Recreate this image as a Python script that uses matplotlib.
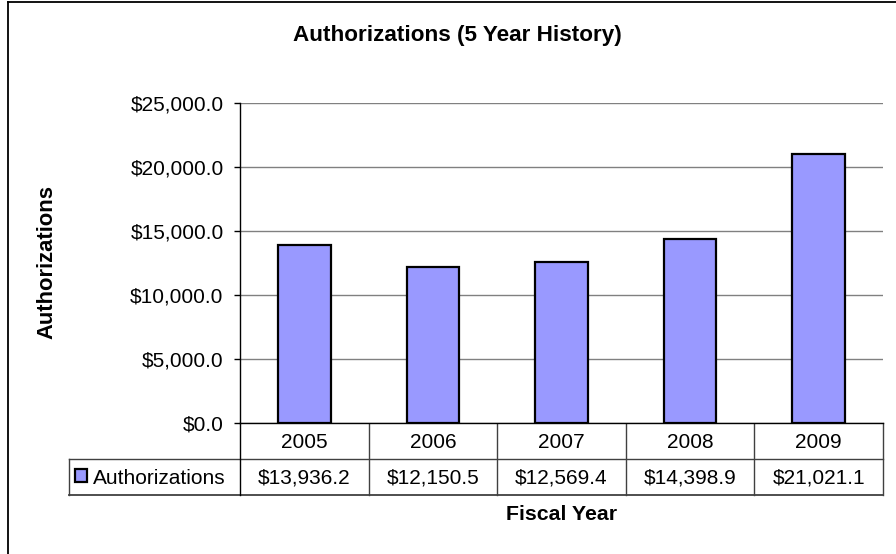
import matplotlib.pyplot as plt
import numpy as np

years = ["2005", "2006", "2007", "2008", "2009"]
authorizations = [13936.2, 12150.5, 12569.4, 14398.9, 21021.1]
series_name = "Authorizations"
y_ticks = [0, 5000, 10000, 15000, 20000, 25000]

W, H = 896, 554
plt.rcParams["font.family"] = ["Liberation Sans", "DejaVu Sans"]
fig = plt.figure(figsize=(W / 100, H / 100), dpi=100)

# plot area in pixel units
left, right, top, bottom = 240, 883, 103, 423
ax = fig.add_axes([left / W, 1 - bottom / H, (right - left) / W, (bottom - top) / H])

x = np.arange(len(years))
ax.bar(x, authorizations, width=0.41, color="#9999FF", edgecolor="black",
       linewidth=1.6, zorder=3)
ax.set_xlim(-0.5, len(years) - 0.5)
ax.set_ylim(0, 25000)
ax.set_yticks(y_ticks)
ax.set_yticklabels([f"${v:,.1f}" for v in y_ticks], fontsize=15)
ax.set_xticks([])
ax.yaxis.grid(True, color="#808080", linewidth=1.0, zorder=0)
ax.tick_params(axis="y", length=4.3, width=1, pad=7.5)
for s in ("top", "right"):
    ax.spines[s].set_visible(False)
ax.spines["left"].set_linewidth(1.0)
ax.spines["bottom"].set_linewidth(1.0)

# overlay in pixel coordinates for table, titles and frame
ov = fig.add_axes([0, 0, 1, 1], zorder=-1)
ov.set_xlim(0, W)
ov.set_ylim(H, 0)
ov.axis("off")

# chart frame (runs off the right and bottom edges)
ov.plot([8, 8], [2, H + 5], color="black", lw=1.3)
ov.plot([8, W + 5], [2, 2], color="black", lw=1.3)

ov.text(457, 35, "Authorizations (5 Year History)", fontsize=16.2,
        fontweight="bold", ha="center", va="center")
ov.text(47, 262, "Authorizations", fontsize=15.8, fontweight="bold",
        rotation=90, ha="center", va="center")
ov.text((left + right) / 2, 514, "Fiscal Year", fontsize=15.3,
        fontweight="bold", ha="center", va="center")

# data table
col_w = (right - left) / len(years)
r0, r1, r2 = bottom, 459, 495
key_left = 69
gc = "#404040"
ov.plot([key_left, right], [r1, r1], color=gc, lw=1.0)
ov.plot([key_left, right], [r2, r2], color=gc, lw=1.3)
ov.plot([key_left, key_left], [r1, r2], color=gc, lw=1.0)
ov.plot([left, left], [r0, r2], color="black", lw=1.0)
for i in range(1, len(years) + 1):
    ov.plot([left + i * col_w] * 2, [r0, r2], color=gc, lw=1.0)
for i, (yr, val) in enumerate(zip(years, authorizations)):
    cx = left + (i + 0.5) * col_w
    ov.text(cx, (r0 + r1) / 2 + 1, yr, fontsize=15, ha="center", va="center")
    ov.text(cx, (r1 + r2) / 2 + 1, f"${val:,.1f}", fontsize=15,
            ha="center", va="center")
ov.add_patch(plt.Rectangle((75, 469), 12, 13, facecolor="#9999FF",
                           edgecolor="black", lw=1.6))
ov.text(93, (r1 + r2) / 2 + 1, series_name, fontsize=15, ha="left", va="center")

fig.savefig("out.png", dpi=100)
